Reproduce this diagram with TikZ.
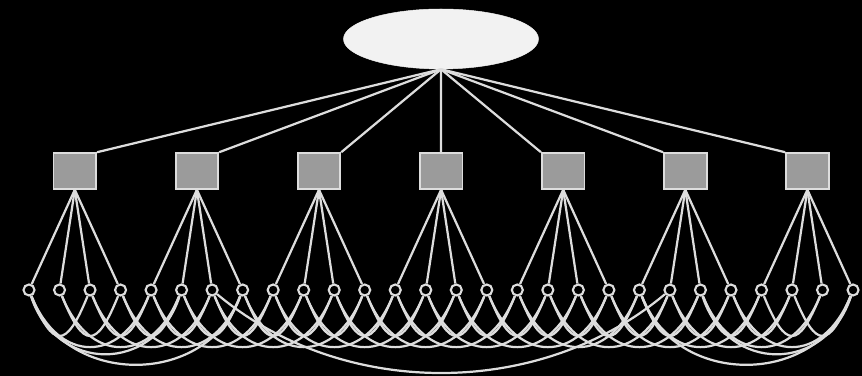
\documentclass[tikz,border=0pt]{standalone}
\usepackage{xcolor}
\usetikzlibrary{shapes.geometric}
\definecolor{GLine}{HTML}{DDDDDD}
\definecolor{GBox}{HTML}{9B9B9B}
\definecolor{GRoot}{HTML}{F2F2F2}

\begin{document}
\begin{tikzpicture}[
  x=0.03cm,y=0.03cm,
  root/.style={ellipse,fill=GRoot,draw=GRoot,minimum width=5.85cm,minimum height=1.8cm,inner sep=0pt},
  box/.style={draw=GLine,fill=GBox,line width=1.6pt,minimum width=1.28cm,minimum height=1.07cm,inner sep=0pt},
  leaf/.style={circle,draw=GLine,fill=black,line width=1.8pt,minimum size=0.33cm,inner sep=0pt},
  l/.style={draw=GLine,line width=1.9pt}
]
  \path[use as bounding box,fill=black] (0,0) rectangle (862,376);
  \node[root] (r) at (441,337) {};
  % modules
  \foreach \i/\an in {0/north east,1/north east,2/north east,3/north,4/north west,5/north west,6/north west} {
    \node[box] (m\i) at (74.8+122.1*\i,205) {};
    \draw[l] (r.south) -- (m\i.\an);
  }
  % leaves
  \foreach \k in {0,...,27} {
    \pgfmathtruncatemacro\p{\k/4}
    \node[leaf] (c\k) at (29+30.52*\k,86) {};
    \draw[l] (m\p.south) -- (c\k);
  }
  % short arcs
  \foreach \a in {0,...,25} {
    \pgfmathtruncatemacro\b{\a+2}
    \draw[l] (c\a) .. controls +(-68:64) and +(-112:64) .. (c\b);
  }
  \foreach \a in {0,...,23} {
    \pgfmathtruncatemacro\b{\a+4}
    \draw[l] (c\a) .. controls +(-68:80) and +(-112:80) .. (c\b);
  }
  % long arcs
  \foreach \a/\b/\o/\d in {0/5/72/88,0/7/70/104,22/27/72/88,20/27/70/104,6/21/40/170} {
    \draw[l] (c\a) .. controls +(-\o:\d) and +(-180+\o:\d) .. (c\b);
  }
\end{tikzpicture}
\end{document}
